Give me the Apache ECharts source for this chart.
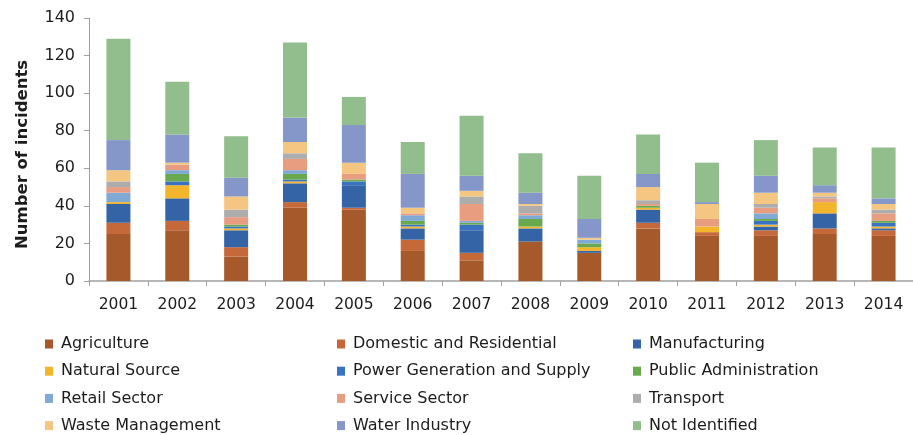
<!DOCTYPE html>
<html>
<head>
<meta charset="utf-8">
<script src="https://cdn.jsdelivr.net/npm/echarts@6.0.0/dist/echarts.min.js"></script>
<style>
  html, body { margin: 0; padding: 0; background: #ffffff; }
  #chart { width: 913px; height: 435px; }
</style>
</head>
<body>
<div id="chart"></div>
<script>
// Incidents per year, broken down by sector (stacked, bottom to top)
const years = ['2001','2002','2003','2004','2005','2006','2007','2008','2009','2010','2011','2012','2013','2014'];

const agriculture   = [25, 27, 13, 39, 38, 16, 11, 21, 15, 28, 24, 24, 25, 24];
const domestic      = [ 6,  5,  5,  3,  1,  6,  4,  0,  0,  3,  2,  3,  3,  3];
const manufacturing = [10, 12,  9, 10, 12,  6, 12,  7,  1,  7,  0,  2,  8,  1];
const naturalSource = [ 1,  7,  1,  1,  0,  1,  0,  1,  2,  1,  3,  1,  6,  1];
const powerSupply   = [ 0,  2,  1,  1,  2,  1,  3,  0,  0,  0,  0,  2,  0,  2];
const publicAdmin   = [ 0,  4,  1,  3,  1,  2,  1,  4,  2,  1,  0,  1,  0,  1];
const retail        = [ 5,  2,  0,  2,  0,  3,  1,  2,  2,  0,  0,  3,  0,  0];
const service       = [ 3,  3,  4,  6,  3,  1,  9,  1,  0,  1,  4,  3,  2,  4];
const transport     = [ 3,  0,  4,  3,  0,  0,  4,  4,  0,  2,  0,  2,  1,  2];
const waste         = [ 6,  1,  7,  6,  6,  3,  3,  1,  1,  7,  8,  6,  2,  3];
const water         = [16, 15, 10, 13, 20, 18,  8,  6, 10,  7,  1,  9,  4,  3];
const notIdentified = [54, 28, 22, 40, 15, 17, 32, 21, 23, 21, 21, 19, 20, 27];

const yTicks = { min: 0, max: 140, interval: 20 };

const sectors = [
  { name: 'Agriculture',                  data: agriculture,   color: '#A65A2B' },
  { name: 'Domestic and Residential',     data: domestic,      color: '#C5693A' },
  { name: 'Manufacturing',                data: manufacturing, color: '#3464A6' },
  { name: 'Natural Source',               data: naturalSource, color: '#F2B52C' },
  { name: 'Power Generation and Supply',  data: powerSupply,   color: '#3A72C2' },
  { name: 'Public Administration',        data: publicAdmin,   color: '#69A94E' },
  { name: 'Retail Sector',                data: retail,        color: '#80A9D5' },
  { name: 'Service Sector',               data: service,       color: '#E89C80' },
  { name: 'Transport',                    data: transport,     color: '#ADADAD' },
  { name: 'Waste Management',             data: waste,         color: '#F5C681' },
  { name: 'Water Industry',               data: water,         color: '#8497C8' },
  { name: 'Not Identified',               data: notIdentified, color: '#92BD8C' }
];

const FONT = '"DejaVu Sans", sans-serif';
const TEXT = '#1c1c1c';
const AXIS = '#A0A0A0';

// Legend laid out in three columns of four rows
function legendColumn(names, left) {
  return {
    orient: 'vertical',
    left: left,
    top: 336,
    padding: 0,
    itemWidth: 8,
    itemHeight: 9,
    itemGap: 11.2,
    icon: 'rect',
    selectedMode: false,
    data: names,
    textStyle: {
      fontFamily: FONT, fontSize: 16, color: TEXT,
      lineHeight: 16, padding: [0, 0, 0, 3]
    }
  };
}

const chart = echarts.init(document.getElementById('chart'), null, { renderer: 'canvas' });

chart.setOption({
  animation: false,
  backgroundColor: '#ffffff',
  grid: { left: 89, right: -5, top: 18, bottom: 154, containLabel: false },
  legend: [
    legendColumn([sectors[0].name, sectors[3].name, sectors[6].name, sectors[9].name], 45),
    legendColumn([sectors[1].name, sectors[4].name, sectors[7].name, sectors[10].name], 337),
    legendColumn([sectors[2].name, sectors[5].name, sectors[8].name, sectors[11].name], 633)
  ],
  xAxis: {
    type: 'category',
    data: years,
    axisLine: { lineStyle: { color: AXIS, width: 1.5 } },
    axisTick: { show: true, length: 5, lineStyle: { color: AXIS } },
    axisLabel: { fontFamily: FONT, fontSize: 15.5, color: TEXT, margin: 16 }
  },
  yAxis: {
    type: 'value',
    min: yTicks.min,
    max: yTicks.max,
    interval: yTicks.interval,
    name: 'Number of incidents',
    nameLocation: 'middle',
    nameGap: 58,
    nameTextStyle: { fontFamily: FONT, fontSize: 16.5, fontWeight: 'bold', color: TEXT, padding: [0, 10, 0, 0] },
    axisLine: { show: true, lineStyle: { color: AXIS, width: 1 } },
    axisTick: { show: true, length: 5, lineStyle: { color: AXIS } },
    axisLabel: { fontFamily: FONT, fontSize: 16, color: TEXT, margin: 14 },
    splitLine: { show: false }
  },
  series: sectors.map(s => ({
    name: s.name,
    type: 'bar',
    stack: 'incidents',
    barWidth: 24,
    data: s.data,
    itemStyle: { color: s.color }
  }))
});
</script>
</body>
</html>
